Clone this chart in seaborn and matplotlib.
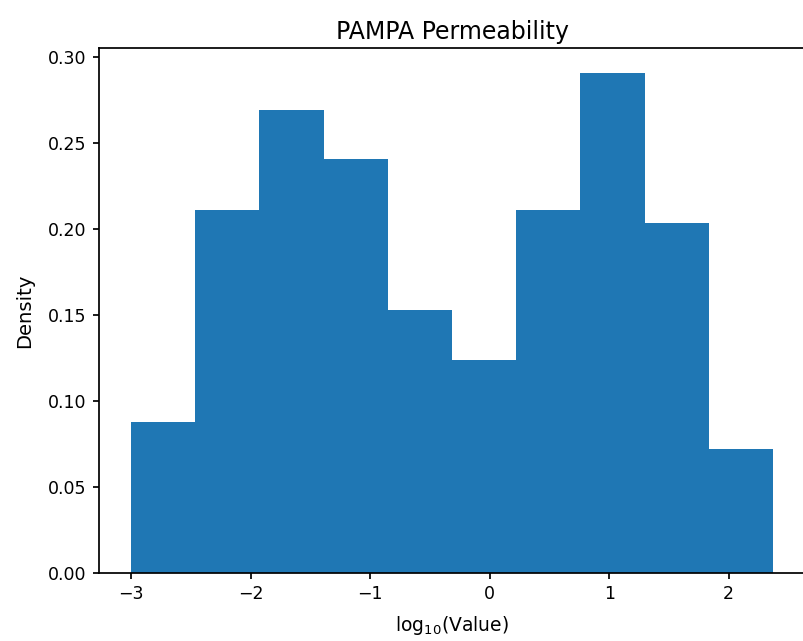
import numpy as np
import pandas as pd
import matplotlib
matplotlib.use("Agg")
import matplotlib.pyplot as plt
import seaborn as sns

# Histogram bin edges (log10 scale) and density heights
bin_edges = [-3.0, -2.463, -1.926, -1.389, -0.852, -0.315, 0.222, 0.759, 1.296, 1.833, 2.37]
densities = [0.088, 0.211, 0.269, 0.2405, 0.153, 0.124, 0.211, 0.2905, 0.2035, 0.0722]

edges = np.array(bin_edges)
centers = (edges[:-1] + edges[1:]) / 2
df = pd.DataFrame({"value": centers, "density": densities})

sns.set_style("ticks")
plt.rcParams["font.family"] = ["DejaVu Sans"]
plt.rcParams["text.color"] = "black"
plt.rcParams["axes.labelcolor"] = "black"

fig = plt.figure(figsize=(803 / 125, 641 / 125), dpi=125)
ax = fig.add_axes([99 / 803, 1 - 573 / 641, 706 / 803, (573 - 48) / 641])

sns.histplot(data=df, x="value", weights="density", bins=list(bin_edges), stat="count",
             color="#1f77b4", alpha=1.0, linewidth=0, ax=ax)

ax.set_xlim(-3.2685, 2.6385)
ax.set_ylim(0, 0.3052)
ax.set_xticks([-3, -2, -1, 0, 1, 2])
ax.set_yticks([0.0, 0.05, 0.10, 0.15, 0.20, 0.25, 0.30])
ax.set_yticklabels(["0.00", "0.05", "0.10", "0.15", "0.20", "0.25", "0.30"])
ax.set_xlabel(r"log$_{10}$(Value)", fontsize=10.8, labelpad=6)
ax.set_ylabel("Density", fontsize=11.3, labelpad=8)
ax.set_title("PAMPA Permeability", fontsize=13.6, pad=5)
for s in ax.spines.values():
    s.set_visible(True)
    s.set_color("black")
    s.set_linewidth(1.0)
ax.tick_params(colors="black", labelcolor="black", direction="out", length=3.5, width=1.0)

fig.savefig("out.png", dpi=125)
